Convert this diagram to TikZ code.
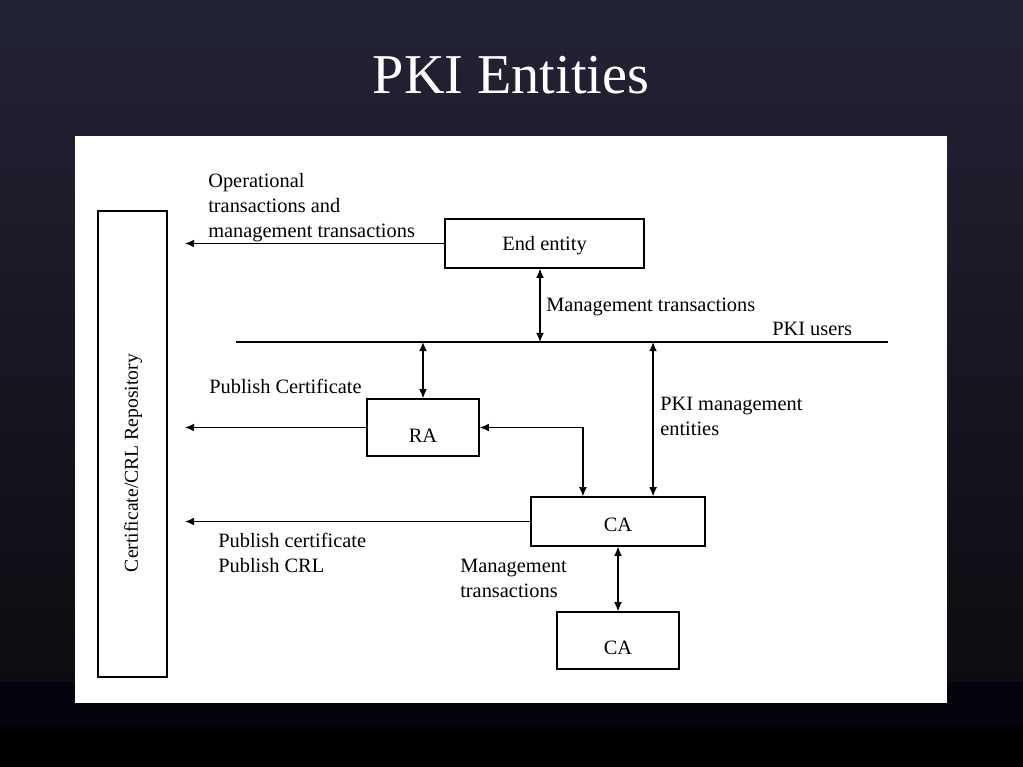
\documentclass[tikz,border=0pt]{standalone}
\usepackage{fontspec}
\setmainfont{Liberation Serif}
\usetikzlibrary{arrows.meta,calc}

\definecolor{slidenavy}{RGB}{35,35,54}
\definecolor{slidedark}{RGB}{12,12,17}
\definecolor{slidefoot}{RGB}{4,4,14}

\tikzset{
  entitybox/.style = {rectangle, draw = black, line width = 0.9pt,
    fill = white, text = black, inner sep = 0pt, text depth = 0pt,
    font = \fontsize{14.5}{17.5}\selectfont},
  note/.style = {text = black, inner sep = 0pt, align = left,
    font = \fontsize{14.5}{17.8}\selectfont},
  onearrow/.style = {line width = 0.9pt, -{Latex[length=6.5pt,width=5.5pt]}},
  twoarrow/.style = {line width = 0.9pt, {Latex[length=6.5pt,width=5.5pt]}-{Latex[length=6.5pt,width=5.5pt]}}
}

\begin{document}
\begin{tikzpicture}[x=0.025cm, y=-0.025cm]

\useasboundingbox (0,0) rectangle (1023,767);

% slide background
\shade[top color = slidenavy, middle color = slidenavy, bottom color = slidedark]
  (0,0) rectangle (1023,682);
\fill[slidefoot] (0,682) rectangle (1023,725);
\fill[black] (0,725) rectangle (1023,767);

\node[text = white, font = \fontsize{40}{44}\selectfont] (title) at (511,75) {PKI Entities};

% white panel
\fill[white] (75,136) rectangle (947,703);

% entities
\node[entitybox,
    minimum width = 1.725cm,
    minimum height = 11.65cm] (repo) at (132.5,444) {};
\node[note, rotate = 90, font = \fontsize{14}{17}\selectfont] (repotext) at (133,463) {Certificate/CRL Repository};

\node[entitybox,
    text height = 10.6pt,
    minimum width = 4.975cm,
    minimum height = 1.225cm] (ee) at (544.5,243.5) {End entity};

\node[entitybox,
    text height = 21pt,
    minimum width = 2.8cm,
    minimum height = 1.425cm] (ra) at (423,427.5) {RA};

\node[entitybox,
    text height = 13.8pt,
    minimum width = 4.35cm,
    minimum height = 1.225cm] (ca) at (618,521.5) {CA};

\node[entitybox,
    text height = 19.6pt,
    minimum width = 3.05cm,
    minimum height = 1.425cm] (catwo) at (618,640.5) {CA};

% PKI users line
\coordinate (usersleft) at (236,342);
\coordinate (usersright) at (888,342);
\draw[line width = 0.9pt] (usersleft) -- (usersright);
\node[note, anchor = west] (userstext) at (772,329) {PKI users};

% arrow ends in front of the repository
\coordinate (pub) at (185,0);

\draw[onearrow] (ee.west) -- (ee.west -| pub);
\node[note, anchor = north west] (optext) at (208,173)
  {Operational\\transactions and\\management transactions};

\draw[twoarrow] (ee.south -| 540,0) -- (usersleft -| 540,0);
\node[note, anchor = west] (eetext) at (546,307) {Management transactions};

\draw[twoarrow] (usersleft -| ra.north) -- (ra.north);
\draw[onearrow] (ra.west) -- (ra.west -| pub);
\node[note, anchor = west] (ratext) at (209,386) {Publish Certificate};

\coordinate (catop) at ($(ca.north west)!0.3!(ca.north east)$);
\coordinate (camgt) at ($(ca.north west)!0.7!(ca.north east)$);
\draw[twoarrow] (ra.east) -| (catop);
\draw[twoarrow] (usersleft -| camgt) -- (camgt);
\node[note, anchor = north west] (mgttext) at (660,397) {PKI management\\entities};

\draw[onearrow] (ca.west) -- (ca.west -| pub);
\node[note, anchor = north west] (catext) at (218,533) {Publish certificate\\Publish CRL};

\draw[twoarrow] (ca.south) -- (catwo.north);
\node[note, anchor = north west] (catwotext) at (460,559) {Management\\transactions};

\end{tikzpicture}
\end{document}
